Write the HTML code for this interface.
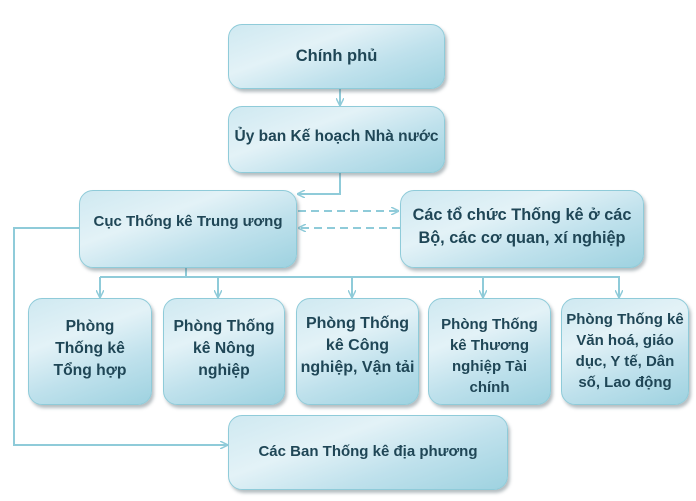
<!DOCTYPE html>
<html><head><meta charset="utf-8"><style>
body{margin:0;width:696px;height:501px;background:#fff;position:relative;overflow:hidden;font-family:"Liberation Sans","DejaVu Sans",sans-serif}
.b{position:absolute;box-sizing:border-box;border:1.5px solid #8fcbd9;border-radius:14px;
background:linear-gradient(160deg,#cfe9f1 0%,#e3f2f7 35%,#bfe1ec 65%,#9ed2e0 100%);
box-shadow:2px 3px 3px rgba(90,110,120,0.45);color:#1f4656;font-weight:bold;font-size:15px;
text-align:center;display:flex;justify-content:center;line-height:22px;white-space:nowrap}
svg{position:absolute;left:0;top:0}
</style></head><body>
<svg width="696" height="501">
<defs><marker id="a" markerWidth="8" markerHeight="8" refX="7" refY="4" orient="auto" markerUnits="userSpaceOnUse"><path d="M0,0 L8,4 L0,8" fill="none" stroke="#8fcbd9" stroke-width="1.5"/></marker></defs>
<g stroke="#8fcbd9" stroke-width="2" fill="none">
<line x1="340" y1="88" x2="340" y2="105" marker-end="url(#a)"/>
<polyline points="340,172 340,194 298,194" marker-end="url(#a)"/>
<line x1="298" y1="211" x2="398" y2="211" stroke-dasharray="8,5" marker-end="url(#a)"/>
<line x1="400" y1="228" x2="299" y2="228" stroke-dasharray="8,5" marker-end="url(#a)"/>
<line x1="186" y1="267" x2="186" y2="277"/>
<line x1="100" y1="277" x2="620" y2="277"/>
<line x1="100" y1="277" x2="100" y2="297" marker-end="url(#a)"/>
<line x1="218" y1="277" x2="218" y2="297" marker-end="url(#a)"/>
<line x1="352" y1="277" x2="352" y2="297" marker-end="url(#a)"/>
<line x1="483" y1="277" x2="483" y2="297" marker-end="url(#a)"/>
<line x1="619" y1="277" x2="619" y2="297" marker-end="url(#a)"/>
<polyline points="79,228 14,228 14,445 227,445" marker-end="url(#a)"/>
</g></svg>
<div class="b" style="left:228px;top:24px;width:217px;height:65px;padding-top:20px;font-size:16.5px">Chính phủ</div>
<div class="b" style="left:228px;top:106px;width:217px;height:67px;padding-top:19px;font-size:15.5px">Ủy ban Kế hoạch Nhà nước</div>
<div class="b" style="left:79px;top:190px;width:218px;height:78px;padding-top:20px">Cục Thống kê Trung ương</div>
<div class="b" style="left:400px;top:190px;width:244px;height:78px;padding-top:13px;font-size:16.3px;line-height:23px">Các tổ chức Thống kê ở các<br>Bộ, các cơ quan, xí nghiệp</div>
<div class="b" style="left:28px;top:298px;width:124px;height:107px;padding-top:17px;font-size:15.7px">Phòng<br>Thống kê<br>Tổng hợp</div>
<div class="b" style="left:163px;top:298px;width:122px;height:107px;padding-top:17px;font-size:15.7px">Phòng Thống<br>kê Nông<br>nghiệp</div>
<div class="b" style="left:296px;top:298px;width:123px;height:107px;padding-top:14px;font-size:16px">Phòng Thống<br>kê Công<br>nghiệp, Vận tải</div>
<div class="b" style="left:428px;top:298px;width:123px;height:107px;padding-top:15px;font-size:15px;line-height:21px">Phòng Thống<br>kê Thương<br>nghiệp Tài<br>chính</div>
<div class="b" style="left:561px;top:298px;width:128px;height:107px;padding-top:10px;font-size:15px;line-height:21px">Phòng Thống kê<br>Văn hoá, giáo<br>dục, Y tế, Dân<br>số, Lao động</div>
<div class="b" style="left:228px;top:415px;width:280px;height:75px;padding-top:25px">Các Ban Thống kê địa phương</div>
</body></html>
